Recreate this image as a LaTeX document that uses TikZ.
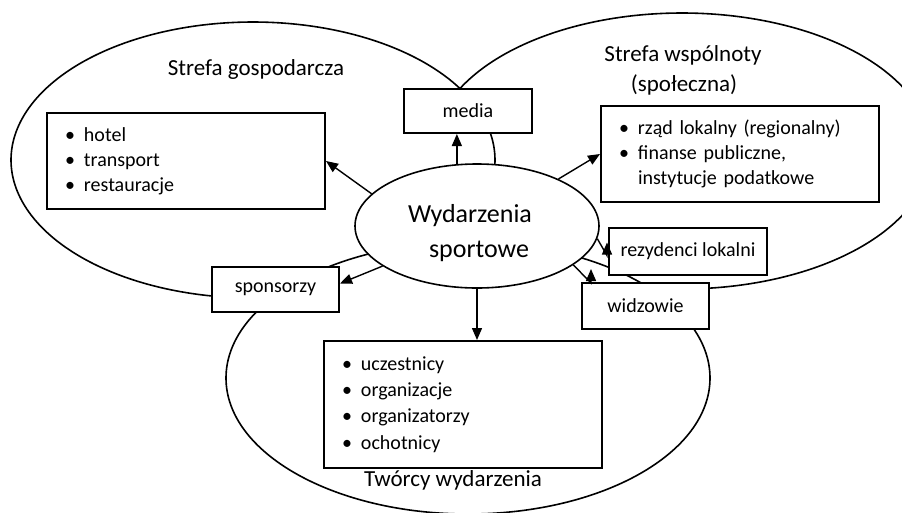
\documentclass[tikz,border=0pt]{standalone}
\usepackage{fontspec}
\setmainfont{Carlito}
\usetikzlibrary{arrows.meta,shapes.geometric,calc}
\newcommand{\bul}{\makebox[19pt][l]{\textbullet}}
\begin{document}
\begin{tikzpicture}[x=1pt,y=-1pt,
  zone/.style={line width=1.6pt},
  box/.style={draw, line width=2pt, fill=white, inner sep=0pt, font=\fontsize{20}{25}\selectfont},
  listbox/.style={box, anchor=north west, align=left, text width=242pt, inner xsep=18pt, inner ysep=0pt},
  title/.style={font=\fontsize{23}{30}\selectfont, anchor=base},
  arr/.style={line width=1.4pt, -{Triangle[length=12pt,width=10pt]}},
]
\useasboundingbox (0,0) rectangle (902,512);
\clip (0,0) rectangle (902,512);
\fill[white] (0,0) rectangle (902,512);

% zone outlines (economic, community, event creators)
\draw[zone] plot[domain=97:400, samples=240, variable=\t] ({253+242*cos(\t)},{160+138*sin(\t)});
\draw[zone] plot[domain=205:457, samples=240, variable=\t] ({682+249*cos(\t)},{151+138*sin(\t)});
\draw[zone] (468,378) ellipse [x radius=242, y radius=136];

% boxes
\node[listbox, minimum height=96pt] (lbox) at (46,112)
  {\bul hotel\\ \bul transport\\ \bul restauracje};
\node[listbox, minimum height=96pt] (rbox) at (600,105)
  {\bul rząd lokalny (regionalny)\\ \bul finanse publiczne,\\ \hspace*{19pt}instytucje podatkowe};
\node[listbox, minimum height=127pt, font=\fontsize{20}{26.3}\selectfont] (bbox) at (323,340)
  {\bul uczestnicy\\ \bul organizacje\\ \bul organizatorzy\\ \bul ochotnicy};

\node[box, minimum width=128pt, minimum height=44pt] (media) at (468,111) {media};
\node[box, minimum width=127pt, minimum height=45pt] (spons) at (275.5,289.5) {sponsorzy};
\node[box, minimum width=158pt, minimum height=47pt] (rez) at (688,251.5) {rezydenci lokalni};
\node[box, minimum width=127pt, minimum height=46pt] (widz) at (645.5,306) {widzowie};

% central event
\node[draw, ellipse, line width=1.6pt, fill=white, minimum width=244pt, minimum height=124pt,
      inner sep=0pt, align=center, font=\fontsize{26}{35}\selectfont] (wyd) at (477,226)
  {\rule{0pt}{32pt}Wydarzenia\hspace*{14pt}\\ \hspace*{4pt}sportowe};

% connectors
\draw[arr] (wyd.163) -- (lbox.east);
\draw[arr] (wyd.108) -- (wyd.108 |- media.south);
\draw[arr] (wyd.30) -- (rbox.west);
\draw[arr] (wyd.203) -- ($(spons.east)+(0,-6)$);
\draw[arr] (wyd.south) -- (wyd.south |- bbox.north);
\draw[arr] (wyd.-6) -- ($(rez.west)+(-1,4)$) -- ($(rez.west)+(-1,-9)$);
\draw[arr] (wyd.-22) -- ($(widz.north west)+(10,1)$) -- ($(widz.north west)+(10,-13)$);

% zone titles
\node[title] (tgosp) at (256,75) {Strefa gospodarcza};
\node[title] (twsp) at (683,61) {Strefa wspólnoty};
\node[title] (tspol) at (684,91) {(społeczna)};
\node[title] (ttw) at (453,486) {Twórcy wydarzenia};
\end{tikzpicture}
\end{document}
